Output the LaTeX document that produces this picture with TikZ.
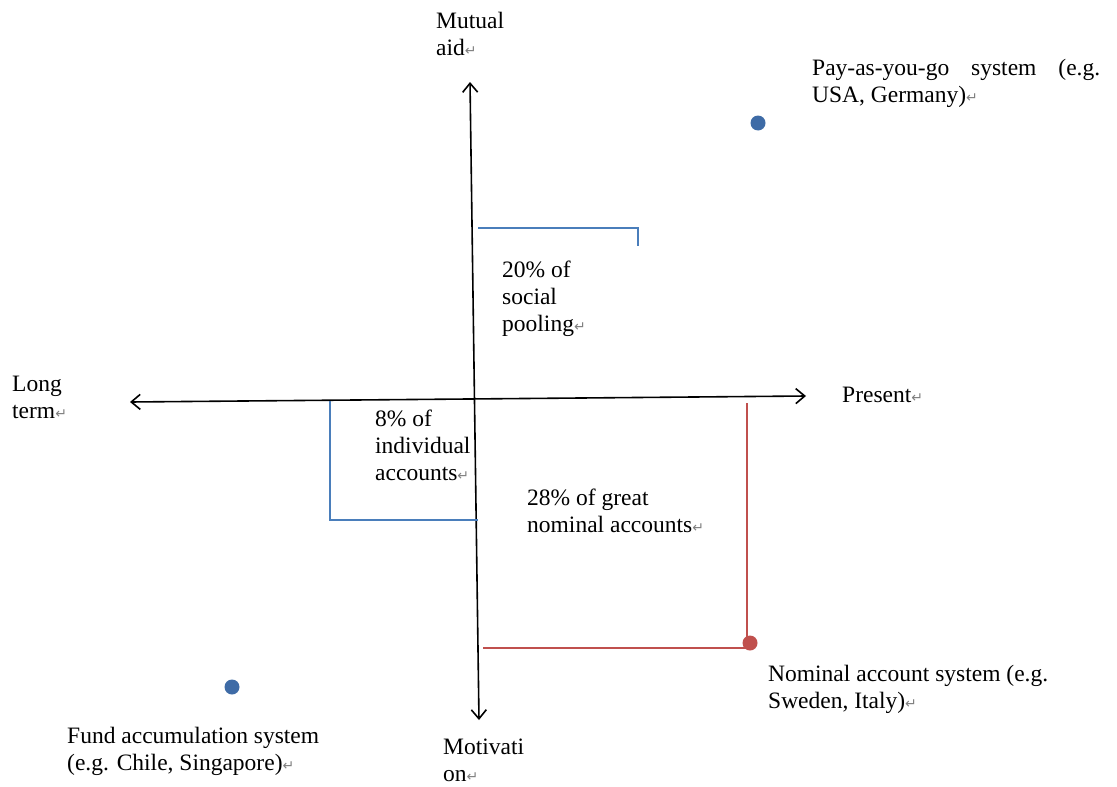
\documentclass[tikz,border=0pt]{standalone}
\usepackage{fontspec}
\setmainfont{Liberation Serif}
\newfontfamily\markfont{DejaVu Sans}
\usetikzlibrary{arrows.meta}
\definecolor{lineblue}{HTML}{4A7EBB}
\definecolor{linered}{HTML}{C0504D}
\definecolor{dotblue}{HTML}{3E6BA6}
\newcommand{\pmark}{{\markfont\fontsize{14}{14}\selectfont\textcolor{gray}{↵}}}
\tikzset{
  lbl/.style={anchor=base west,inner sep=0pt,align=left,
    font=\fontsize{23.5}{27}\selectfont},
  axis/.style={line width=1.6pt,
    {Straight Barb[length=9pt,width=15pt,line width=1.6pt]}-{Straight Barb[length=9pt,width=15pt,line width=1.6pt]}},
  dot/.style={circle,inner sep=0pt,minimum size=15pt},
}
\begin{document}
\begin{tikzpicture}[x=1pt,y=-1pt]
  \useasboundingbox (0,0) rectangle (1117,787);
  % axes
  \coordinate (top) at (470,82);
  \coordinate (bottom) at (479,720);
  \coordinate (left) at (130,402);
  \coordinate (right) at (806,396);
  \draw[axis] (bottom) -- (top);
  \draw[axis] (left) -- (right);
  % axis labels (base = last line)
  \node[lbl] (mutual) at (436,55) {Mutual\\aid\pmark};
  \node[lbl] (motiv) at (443,781) {Motivati\\on\pmark};
  \node[lbl] (longterm) at (12,418) {Long\\term\pmark};
  \node[lbl] (present) at (842,402) {Present\pmark};
  % shares
  \draw[lineblue,line width=1.3pt] (478,228) -- (638,228) -- (638,246);
  \node[lbl] (social) at (502,331) {20\% of\\social\\pooling\pmark};
  \draw[lineblue,line width=1.3pt] (330,401) -- (330,520) -- (478,520);
  \node[lbl] (indiv) at (375,480) {8\% of\\individual\\accounts\pmark};
  \node[lbl] (nominal) at (527,532) {28\% of great\\nominal accounts\pmark};
  % systems
  \node[dot,fill=dotblue] (paygdot) at (758,123) {};
  \node[lbl,text width=288pt,align=justify] (payg) at (812,75)
    {Pay-as-you-go system (e.g.\linebreak USA, Germany)\pmark};
  \node[dot,fill=dotblue] (funddot) at (232,687) {};
  \node[lbl] (fund) at (67,770) {Fund accumulation system\\(e.g. Chile, Singapore)\pmark};
  \coordinate (redtop) at (747,403);
  \coordinate (redend) at (483,648);
  \draw[linered,line width=1.3pt] (redtop) |- (redend);
  \node[dot,fill=linered] (nomdot) at (750,643) {};
  \node[lbl] (nomsys) at (768,708) {Nominal account system (e.g.\\Sweden, Italy)\pmark};
\end{tikzpicture}
\end{document}
